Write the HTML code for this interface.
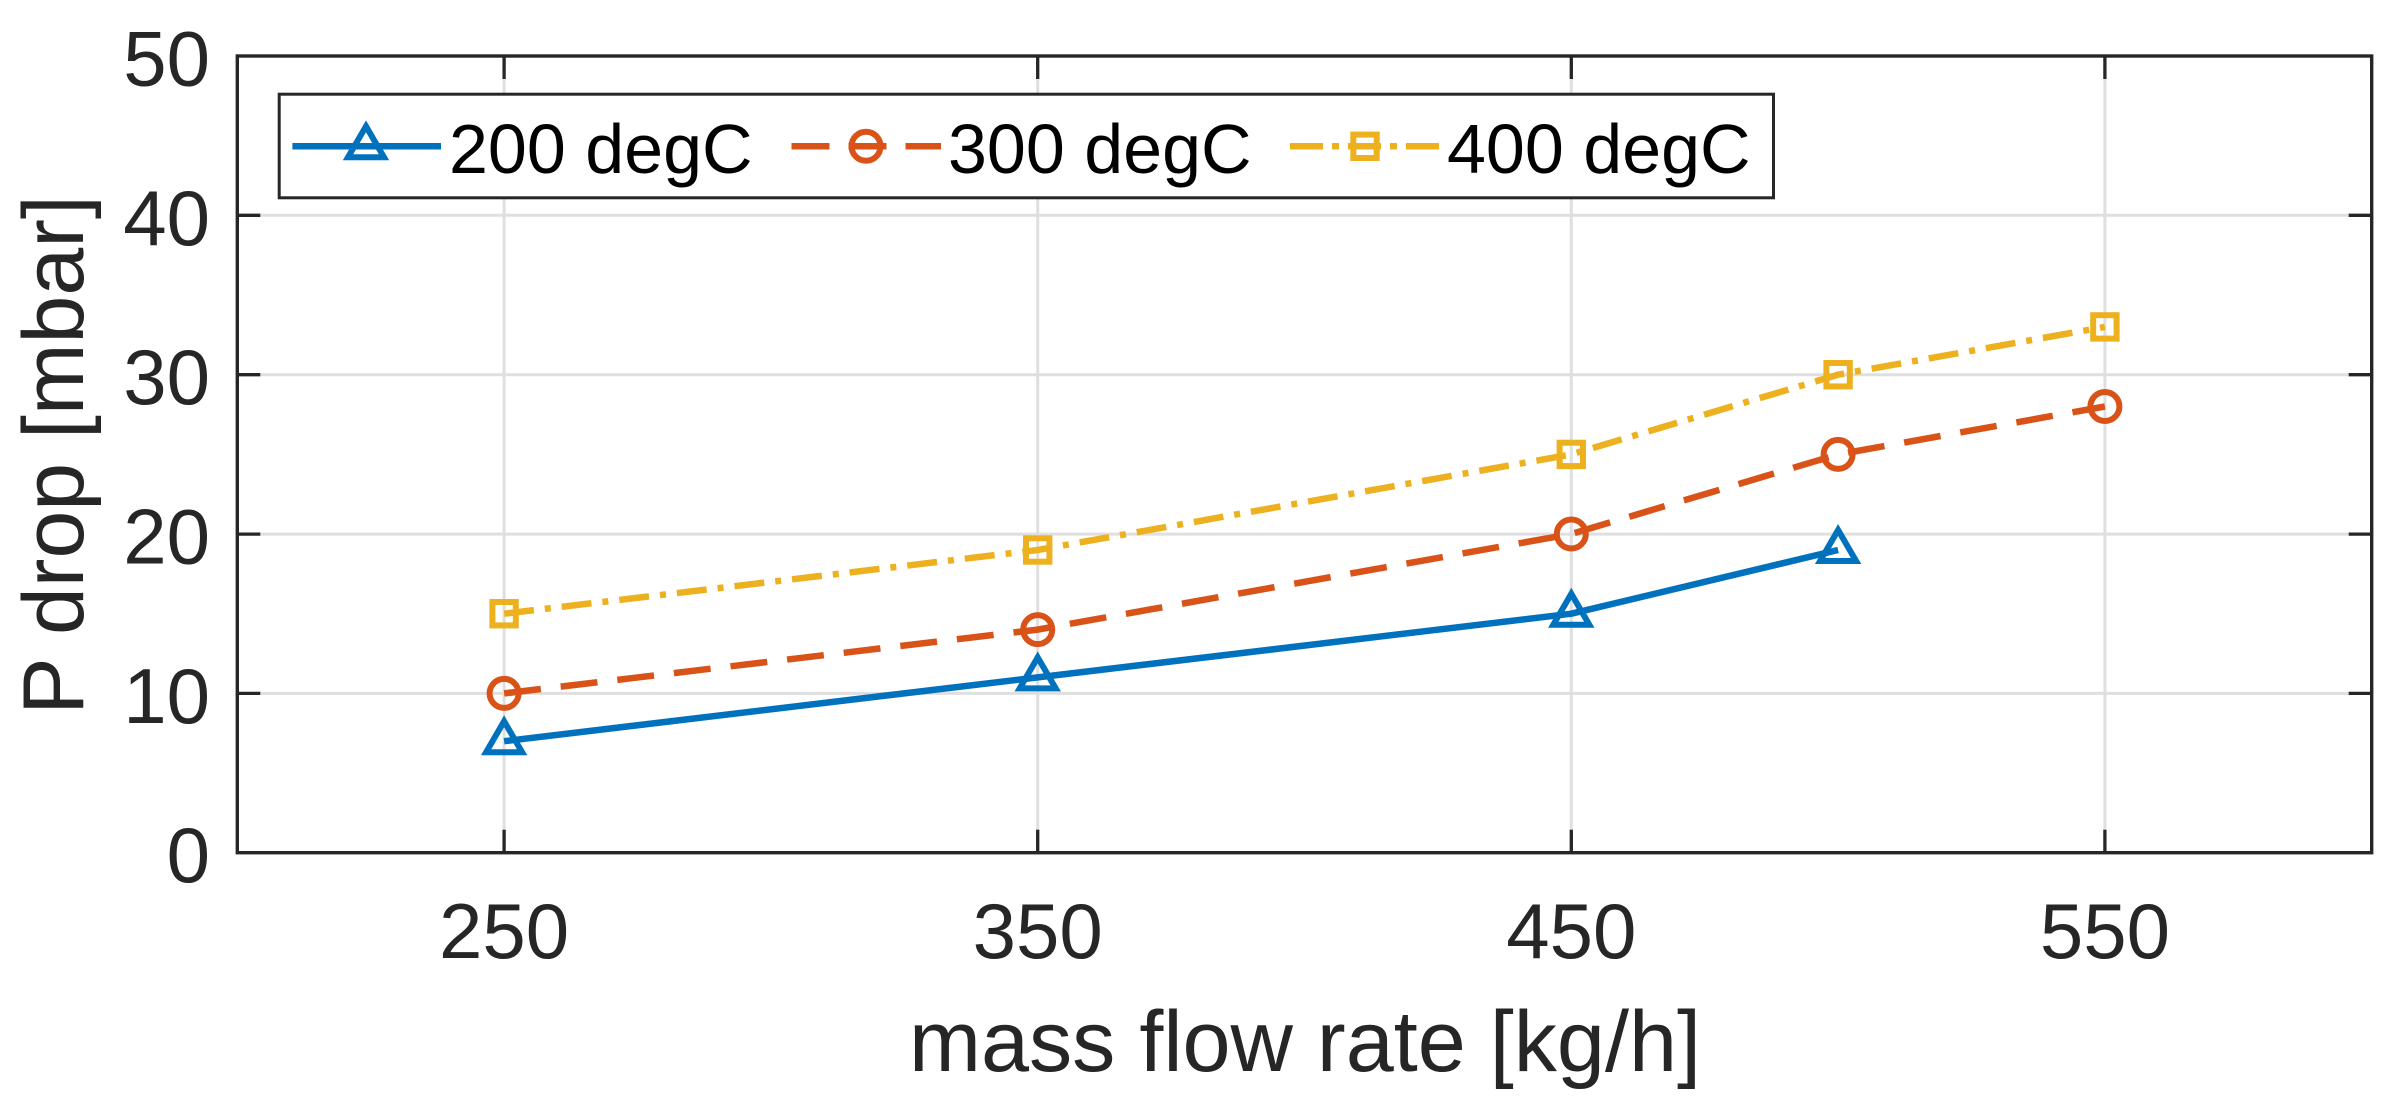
<!DOCTYPE html>
<html>
<head>
<meta charset="utf-8">
<style>
html,body{margin:0;padding:0;background:#fff;}
svg{display:block;}
text{font-family:"Liberation Sans",Arial,sans-serif;}
</style>
</head>
<body>
<svg width="2395" height="1097" viewBox="0 0 2395 1097" xmlns="http://www.w3.org/2000/svg">
<rect x="0" y="0" width="2395" height="1097" fill="#fff"/>

<!-- grid -->
<g stroke="#dfdfdf" stroke-width="3">
  <line x1="504.1" y1="56" x2="504.1" y2="852.7"/>
  <line x1="1037.7" y1="56" x2="1037.7" y2="852.7"/>
  <line x1="1571.3" y1="56" x2="1571.3" y2="852.7"/>
  <line x1="2104.9" y1="56" x2="2104.9" y2="852.7"/>
  <line x1="237.3" y1="693.4" x2="2371.7" y2="693.4"/>
  <line x1="237.3" y1="534.1" x2="2371.7" y2="534.1"/>
  <line x1="237.3" y1="374.7" x2="2371.7" y2="374.7"/>
  <line x1="237.3" y1="215.3" x2="2371.7" y2="215.3"/>
</g>

<!-- ticks -->
<g stroke="#262626" stroke-width="3.3">
  <line x1="504.1" y1="852.7" x2="504.1" y2="829.7"/>
  <line x1="1037.7" y1="852.7" x2="1037.7" y2="829.7"/>
  <line x1="1571.3" y1="852.7" x2="1571.3" y2="829.7"/>
  <line x1="2104.9" y1="852.7" x2="2104.9" y2="829.7"/>
  <line x1="504.1" y1="56" x2="504.1" y2="79"/>
  <line x1="1037.7" y1="56" x2="1037.7" y2="79"/>
  <line x1="1571.3" y1="56" x2="1571.3" y2="79"/>
  <line x1="2104.9" y1="56" x2="2104.9" y2="79"/>
  <line x1="237.3" y1="693.4" x2="260.3" y2="693.4"/>
  <line x1="237.3" y1="534.1" x2="260.3" y2="534.1"/>
  <line x1="237.3" y1="374.7" x2="260.3" y2="374.7"/>
  <line x1="237.3" y1="215.3" x2="260.3" y2="215.3"/>
  <line x1="2371.7" y1="693.4" x2="2348.7" y2="693.4"/>
  <line x1="2371.7" y1="534.1" x2="2348.7" y2="534.1"/>
  <line x1="2371.7" y1="374.7" x2="2348.7" y2="374.7"/>
  <line x1="2371.7" y1="215.3" x2="2348.7" y2="215.3"/>
</g>

<!-- axes box -->
<rect x="237.3" y="56" width="2134.4" height="796.7" fill="none" stroke="#262626" stroke-width="3.4"/>

<!-- data lines -->
<polyline points="504.1,741.2 1037.7,677.4 1571.3,613.7 1838.1,550.0" fill="none" stroke="#0072BD" stroke-width="6.5" stroke-linejoin="round"/>
<polyline points="504.1,693.4 1037.7,629.6 1571.3,534.0 1838.1,454.4 2104.9,406.5" fill="none" stroke="#D95319" stroke-width="6.5" stroke-dasharray="37 20"/>
<polyline points="504.1,613.7 1037.7,550.0 1571.3,454.4 1838.1,374.7 2104.9,326.9" fill="none" stroke="#EDB120" stroke-width="6.5" stroke-dasharray="30 11 6 11"/>

<!-- markers -->
<defs>
  <path id="tri" d="M0,-20 L18,11 L-18,11 Z" fill="none" stroke="#0072BD" stroke-width="6" stroke-linejoin="miter"/>
  <circle id="cir" cx="0" cy="0" r="14.5" fill="none" stroke="#D95319" stroke-width="6"/>
  <rect id="sq" x="-11.7" y="-11.7" width="23.4" height="23.4" fill="none" stroke="#EDB120" stroke-width="6"/>
</defs>
<use href="#tri" x="504.1" y="741.2"/>
<use href="#tri" x="1037.7" y="677.4"/>
<use href="#tri" x="1571.3" y="613.7"/>
<use href="#tri" x="1838.1" y="550.0"/>

<use href="#cir" x="504.1" y="693.4"/>
<use href="#cir" x="1037.7" y="629.6"/>
<use href="#cir" x="1571.3" y="534.0"/>
<use href="#cir" x="1838.1" y="454.4"/>
<use href="#cir" x="2104.9" y="406.5"/>

<use href="#sq" x="504.1" y="613.7"/>
<use href="#sq" x="1037.7" y="550.0"/>
<use href="#sq" x="1571.3" y="454.4"/>
<use href="#sq" x="1838.1" y="374.7"/>
<use href="#sq" x="2104.9" y="326.9"/>

<!-- legend -->
<rect x="279.2" y="94.2" width="1494.3" height="103.6" fill="#fff" stroke="#262626" stroke-width="3"/>
<line x1="292.4" y1="146.3" x2="441" y2="146.3" stroke="#0072BD" stroke-width="6.5"/>
<use href="#tri" x="366" y="146.3"/>
<text x="449" y="173" font-size="70" fill="#000">200 degC</text>
<line x1="791.5" y1="146.3" x2="941" y2="146.3" stroke="#D95319" stroke-width="6.5" stroke-dasharray="38 19"/>
<use href="#cir" x="866" y="146.3"/>
<text x="948" y="173" font-size="70" fill="#000">300 degC</text>
<line x1="1290" y1="146.3" x2="1440.5" y2="146.3" stroke="#EDB120" stroke-width="6.5" stroke-dasharray="33 9 7 9"/>
<use href="#sq" x="1365" y="146.3"/>
<text x="1447" y="173" font-size="70" fill="#000">400 degC</text>

<!-- y tick labels -->
<g font-size="78" fill="#262626" text-anchor="end">
  <text x="210" y="882.2">0</text>
  <text x="210" y="722.9">10</text>
  <text x="210" y="563.6">20</text>
  <text x="210" y="404.2">30</text>
  <text x="210" y="244.8">40</text>
  <text x="210" y="85.5">50</text>
</g>

<!-- x tick labels -->
<g font-size="78" fill="#262626" text-anchor="middle">
  <text x="504.1" y="958">250</text>
  <text x="1037.7" y="958">350</text>
  <text x="1571.3" y="958">450</text>
  <text x="2104.9" y="958">550</text>
</g>

<!-- axis labels -->
<text x="1305" y="1071" font-size="86" fill="#262626" text-anchor="middle" textLength="792" lengthAdjust="spacingAndGlyphs">mass flow rate [kg/h]</text>
<text transform="translate(83,455) rotate(-90)" x="0" y="0" font-size="86" fill="#262626" text-anchor="middle">P drop [mbar]</text>
</svg>
</body>
</html>
